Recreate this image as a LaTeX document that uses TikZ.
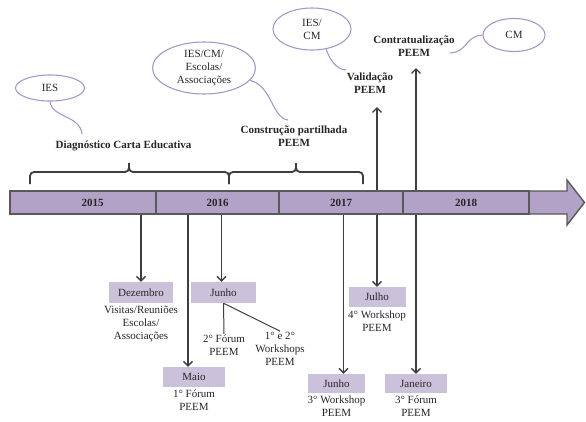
\documentclass[tikz,border=0pt]{standalone}
\usepackage{fontspec}
\setmainfont{Liberation Serif}
\newfontfamily\timesfont{Liberation Serif}
\usetikzlibrary{positioning,arrows.meta,shapes.geometric}
\definecolor{barfill}{HTML}{B3A2C7}
\definecolor{boxfill}{HTML}{CCC1DA}
\definecolor{edge}{HTML}{595959}
\definecolor{ink}{HTML}{262626}
\definecolor{callline}{HTML}{A997C9}

\begin{document}
\begin{tikzpicture}[
    x=1pt, y=-1pt,
    font=\timesfont\fontsize{11}{13}\selectfont, text=ink,
    year/.style={draw=edge, line width=1.4pt, fill=barfill, minimum height=23pt, inner sep=0pt, font=\timesfont\fontsize{11}{13}\selectfont\bfseries},
    month/.style={fill=boxfill, minimum height=20pt, inner sep=0pt},
    desc/.style={align=center, inner sep=1pt},
    phase/.style={align=center, inner sep=1pt, font=\timesfont\fontsize{11}{13}\selectfont\bfseries},
    bubble/.style={ellipse, draw=callline, line width=1.1pt, align=center, inner sep=0pt},
    tail/.style={draw=callline, line width=1.1pt},
    arrow/.style={-{Straight Barb[length=4.5pt, width=9pt]}, draw=edge!70!black, line width=1.3pt},
    link/.style={draw=edge!70!black, line width=1pt},
    bracket/.style={draw=edge!70!black, line width=1.8pt, rounded corners=4pt}
]
\useasboundingbox (0,0) rectangle (586,421);

% timeline bar
\draw[draw=edge, line width=1.4pt, fill=barfill]
    (520,191) -- (567,191) -- (567,180) -- (584.5,202.5) -- (567,225) -- (567,214) -- (520,214) -- cycle;
\node[year, minimum width=146pt] (y15) at (83,202.5) {\hspace*{19pt}2015};
\node[year, minimum width=123pt] (y16) at (217.5,202.5) {2016};
\node[year, minimum width=124pt] (y17) at (341,202.5) {2017};
\node[year, minimum width=126pt] (y18) at (466,202.5) {2018};

% braces
\draw[bracket] (30,184) -- (30,172) -- (129,172) -- (129,163);
\draw[bracket] (229,184) -- (229,172) -- (129,172) -- (129,163);
\draw[bracket] (229,184) -- (229,172) -- (296,172) -- (296,163);
\draw[bracket] (363,184) -- (363,172) -- (296,172) -- (296,163);

% phases
\node[phase] (diag) at (123.5,146) {Diagnóstico Carta Educativa};
\node[phase] (constr) at (294,136.5) {Construção partilhada\\PEEM};
\node[phase] (valid) at (370,83.5) {Validação\\PEEM};
\node[phase] (contr) at (414,46.5) {Contratualização\\PEEM};

% callouts
\node[bubble, minimum width=69pt, minimum height=26pt] (ies) at (50,88) {IES};
\node[bubble, minimum width=103pt, minimum height=52pt] (todos) at (204,68) {IES/CM/\\Escolas/\\Associações};
\node[bubble, minimum width=78pt, minimum height=42pt] (iescm) at (312,29) {IES/\\CM};
\node[bubble, minimum width=62pt, minimum height=33pt] (cm) at (514,35) {CM};
\coordinate (diagtip) at (82,134);
\coordinate (constrtip) at (288,120);
\coordinate (validtip) at (346,70);
\coordinate (contrtip) at (450,53);
\draw[tail] (ies.south) .. controls (52,118) and (80,115) .. (diagtip);
\draw[tail] (todos.-15) .. controls (272,86) and (272,118) .. (constrtip);
\draw[tail] (iescm.-55) .. controls (330,60) and (336,69) .. (validtip);
\draw[tail] (cm.west) .. controls (465,36) and (468,52) .. (contrtip);

% months
\node[month, minimum width=64pt, minimum height=21pt] (dez) at (141,292.5) {Dezembro};
\node[month, minimum width=62pt] (maio) at (194,377) {Maio};
\node[month, minimum width=65pt, minimum height=21pt] (jun16) at (223.5,292.5) {Junho};
\node[month, minimum width=57pt, minimum height=19pt] (jun17) at (336.5,383.5) {Junho};
\node[month, minimum width=57pt] (jul) at (377,297) {Julho};
\node[month, minimum width=62pt, minimum height=19pt] (jan) at (416,383.5) {Janeiro};

\node[desc, below=2pt of dez] (dezd) {Visitas/Reuniões\\Escolas/\\Associações};
\node[desc, below=1pt of maio] (maiod) {1° Fórum\\PEEM};
\node[desc, below=2pt of jul] (juld) {4° Workshop\\PEEM};
\node[desc, below=1pt of jun17] (jun17d) {3° Workshop\\PEEM};
\node[desc, below=1pt of jan] (jand) {3° Fórum\\PEEM};
\node[desc] (forum2) at (224,345.5) {2° Fórum\\PEEM};
\node[desc] (works) at (280,349) {1° e 2°\\Workshops\\PEEM};

% connectors
\draw[arrow] (dez.north |- y15.south) -- (dez.north);
\draw[arrow] ([xshift=-6pt]maio.north |- y16.south) -- ([xshift=-6pt]maio.north);
\draw[arrow] ([xshift=-2pt]jun16.north |- y16.south) -- ([xshift=-2pt]jun16.north);
\draw[arrow] ([xshift=7pt]jun17.north |- y17.south) -- ([xshift=7pt]jun17.north);
\draw[arrow] (jul.north |- y17.south) -- (jul.north);
\draw[arrow] (jan.north |- y18.south) -- (jan.north);
\draw[arrow, shorten >=12pt] (jul.north |- y17.north) -- (jul.north |- valid.south);
\draw[arrow, shorten >=10pt] (jan.north |- y18.north) -- (jan.north |- contr.south);
\draw[link] (jun16.south) -- (forum2.north);
\draw[link] (jun16.south) -- (works.north);
\end{tikzpicture}
\end{document}
